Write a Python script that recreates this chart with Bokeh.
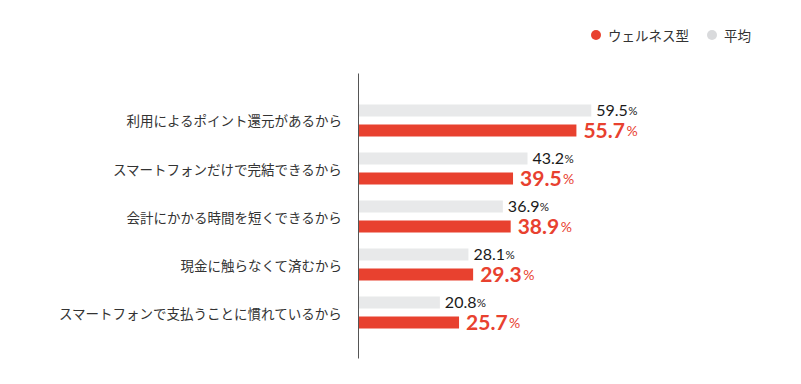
from bokeh.plotting import figure
from bokeh.layouts import column
from bokeh.models import Range1d, FixedTicker, ColumnDataSource, Legend, LegendItem
from bokeh.transform import dodge
from bokeh.core.properties import value
from bokeh.embed import file_html
from bokeh.resources import INLINE

categories = [
    "利用によるポイント還元があるから",
    "スマートフォンだけで完結できるから",
    "会計にかかる時間を短くできるから",
    "現金に触らなくて済むから",
    "スマートフォンで支払うことに慣れているから",
]
wellness = [55.7, 39.5, 38.9, 29.3, 25.7]
average = [59.5, 43.2, 36.9, 28.1, 20.8]
series_names = ["ウェルネス型", "平均"]

RED = "#e8412f"
GREY = "#e8e9ea"
GREY_DOT = "#d9dadc"
JP = "Noto Sans CJK JP"
NUM = "Lato"

pos = list(range(len(categories)))
source = ColumnDataSource(dict(
    pos=pos,
    cat=categories,
    wellness=wellness,
    average=average,
    wl=[f"{v:.1f}" for v in wellness],
    al=[f"{v:.1f}" for v in average],
    pct=["%"] * len(categories),
))

n = len(categories)
p = figure(
    width=785, height=303,
    output_backend="svg", toolbar_location=None,
    x_range=Range1d(0, 104.8),
    y_range=Range1d(n - 1 + 0.958, -0.979),
    min_border_left=358, min_border_top=8,
    min_border_bottom=10, min_border_right=17,
)
p.outline_line_color = None
p.grid.visible = False
p.xaxis.visible = False
p.background_fill_color = "white"
p.border_fill_color = "white"

yax = p.yaxis[0]
yax.ticker = FixedTicker(ticks=pos)
yax.major_label_overrides = {i: c for i, c in zip(pos, categories)}
yax.major_tick_line_color = None
yax.minor_tick_line_color = None
yax.major_label_standoff = 10
yax.major_label_text_font = JP
yax.major_label_text_font_size = "13.5px"
yax.major_label_text_color = "#333333"
yax.axis_line_color = "#555555"
yax.axis_line_width = 1

OFF = 0.208
BH = 0.25
p.hbar(y=dodge("pos", -OFF, range=p.y_range), left=0, right="average", height=BH,
       source=source, fill_color=GREY, line_color=None)
p.hbar(y=dodge("pos", OFF, range=p.y_range), left=0, right="wellness", height=BH,
       source=source, fill_color=RED, line_color=None)

# average labels
p.text(x="average", y=dodge("pos", -OFF, range=p.y_range), text="al", source=source,
       x_offset=5, y_offset=-0.2, text_baseline="alphabetic", text_align="left",
       text_font=value(NUM), text_font_size="16px", text_color="#1a1a1a")
p.text(x="average", y=dodge("pos", -OFF, range=p.y_range), text="pct", source=source,
       x_offset=5 + 32, y_offset=-0.2, text_baseline="alphabetic", text_align="left",
       text_font=value(NUM), text_font_size="11.5px", text_color="#1a1a1a")
# wellness labels
p.text(x="wellness", y=dodge("pos", OFF, range=p.y_range), text="wl", source=source,
       x_offset=7, y_offset=0.5, text_baseline="alphabetic", text_align="left",
       text_font=value(NUM), text_font_size="21px", text_font_style="bold", text_color=RED)
p.text(x="wellness", y=dodge("pos", OFF, range=p.y_range), text="pct", source=source,
       x_offset=7 + 43, y_offset=0.5, text_baseline="alphabetic", text_align="left",
       text_font=value(NUM), text_font_size="14px", text_color=RED)

# legend figure (frames of column children are aligned, so same side borders)
lg = figure(
    width=785, height=65, output_backend="svg", toolbar_location=None,
    x_range=Range1d(0, 1), y_range=Range1d(0, 1),
    min_border_left=358, min_border_top=0, min_border_right=17, min_border_bottom=0,
)
lg.axis.visible = False
lg.grid.visible = False
lg.outline_line_color = None
nan = float("nan")
r_red = lg.scatter(x=[nan], y=[nan], marker="circle", fill_color=RED, line_color=None)
r_grey = lg.scatter(x=[nan], y=[nan], marker="circle", fill_color=GREY_DOT, line_color=None)
legend = Legend(
    items=[LegendItem(label=series_names[0], renderers=[r_red], index=0),
           LegendItem(label=series_names[1], renderers=[r_grey], index=0)],
    location=(225, 18), orientation="horizontal",
    glyph_width=25, glyph_height=25, label_standoff=0, spacing=10,
    padding=0, margin=0, border_line_color=None, background_fill_alpha=0,
    label_text_font=JP, label_text_font_size="13.5px", label_text_color="#333333",
)
lg.add_layout(legend, "center")

layout = column(lg, p, spacing=0)
open("out.html", "w").write(file_html(layout, INLINE))
